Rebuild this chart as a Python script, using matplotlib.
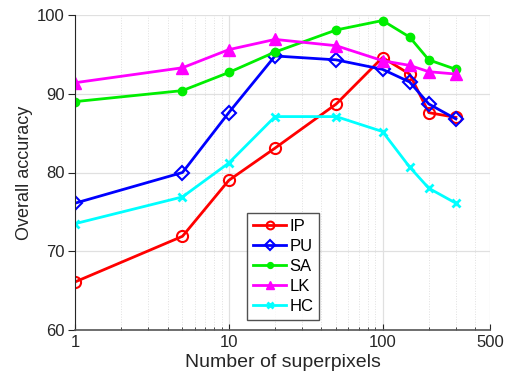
import matplotlib
matplotlib.use("Agg")
import matplotlib.pyplot as plt
from matplotlib.ticker import FixedLocator, NullFormatter, LogLocator

superpixels = [1, 5, 10, 20, 50, 100, 150, 200, 300]
ip = [66.1, 71.9, 79.0, 83.1, 88.7, 94.6, 92.5, 87.6, 87.0]
pu = [76.1, 80.0, 87.6, 94.8, 94.3, 93.1, 91.5, 88.7, 86.8]
sa = [89.0, 90.4, 92.7, 95.3, 98.1, 99.3, 97.2, 94.3, 93.1]
lk = [91.4, 93.3, 95.6, 96.9, 96.1, 94.2, 93.6, 92.8, 92.5]
hc = [73.5, 76.9, 81.2, 87.1, 87.1, 85.2, 80.7, 78.0, 76.1]
xticks = [1, 10, 100, 500]
yticks = [60, 70, 80, 90, 100]

plt.rcParams['font.family'] = ['Liberation Sans', 'DejaVu Sans']

fig = plt.figure(figsize=(5.1, 3.85), dpi=100)
ax = fig.add_axes([75/510, 55/385, 415/510, 315/385])

ax.plot(superpixels, ip, color='#ff0000', lw=2, marker='o', ms=8, mfc='none', mew=1.5, label='IP')
ax.plot(superpixels, pu, color='#0000ff', lw=2, marker='D', ms=7, mfc='none', mew=1.5, label='PU')
ax.plot(superpixels, sa, color='#00ee00', lw=2, marker='o', ms=6, mfc='#00ee00', mew=1, label='SA')
ax.plot(superpixels, lk, color='#ff00ff', lw=2, marker='^', ms=9, mfc='#ff00ff', mew=1, label='LK')
ax.plot(superpixels, hc, color='#00ffff', lw=2, marker='x', ms=6, mew=2, label='HC')

ax.set_xscale('log')
ax.set_xlim(1, 500)
ax.set_ylim(60, 100)
ax.xaxis.set_major_locator(FixedLocator(xticks))
ax.set_xticklabels([str(t) for t in xticks])
ax.xaxis.set_minor_locator(LogLocator(base=10, subs=range(2, 10)))
ax.xaxis.set_minor_formatter(NullFormatter())
ax.set_yticks(yticks)

ax.grid(True, which='major', color='#e0e0e0', lw=0.9)
ax.grid(True, which='minor', axis='x', color='#e0e0e0', lw=0.7, ls=':')
ax.set_axisbelow(True)
for s in ['top', 'right']:
    ax.spines[s].set_visible(False)
ax.spines['left'].set_color('#262626')
ax.spines['bottom'].set_color('#555555')
ax.spines['bottom'].set_linewidth(1.2)
ax.tick_params(axis='both', which='major', labelsize=12, colors='#262626')
ax.tick_params(axis='x', which='major', direction='in', length=4)
ax.tick_params(axis='y', which='major', direction='out', length=5, pad=2.5)
ax.tick_params(axis='x', which='minor', direction='in', length=2, colors='#262626')

ax.set_xlabel('Number of superpixels', fontsize=14, color='#262626', labelpad=3)
ax.set_ylabel('Overall accuracy', fontsize=13, color='#262626', labelpad=3)

leg = ax.legend(loc='lower left', bbox_to_anchor=((247-75)/415, (330-320)/315),
                fontsize=12, frameon=True, fancybox=False, edgecolor='#262626',
                handlelength=2.0, handletextpad=0.2, borderpad=0.35, labelspacing=0.3,
                borderaxespad=0, markerscale=0.7)
leg.get_frame().set_linewidth(1.0)

fig.savefig('out.png', dpi=100)
